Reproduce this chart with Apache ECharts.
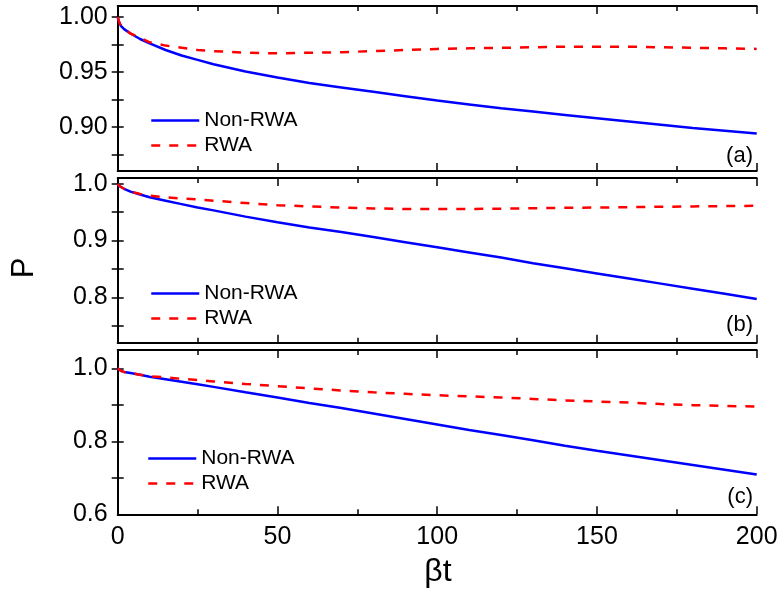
<!DOCTYPE html>
<html>
<head>
<meta charset="utf-8">
<script src="https://cdn.jsdelivr.net/npm/echarts@6/dist/echarts.min.js"></script>
<style>html,body{margin:0;padding:0;background:#fff}#c{width:783px;height:594px}</style>
</head>
<body>
<div id="c"></div>
<script>
const xs = [0, 0.5, 1, 2, 4, 7, 10, 15, 20, 25, 30, 40, 50, 60, 70, 80, 90, 100, 110, 120, 130, 140, 150, 160, 170, 180, 190, 200];
const aNonRWA = [1.000, 0.995, 0.992, 0.989, 0.985, 0.980, 0.976, 0.970, 0.965, 0.961, 0.957, 0.9505, 0.945, 0.940, 0.936, 0.932, 0.928, 0.924, 0.9205, 0.917, 0.914, 0.911, 0.908, 0.905, 0.902, 0.899, 0.8965, 0.894];
const aRWA = [1.000, 0.995, 0.992, 0.989, 0.985, 0.981, 0.977, 0.974, 0.972, 0.970, 0.969, 0.9675, 0.967, 0.9675, 0.968, 0.969, 0.970, 0.971, 0.9715, 0.972, 0.9725, 0.973, 0.973, 0.973, 0.9725, 0.972, 0.9715, 0.971];
const bNonRWA = [1.000, 0.996, 0.994, 0.991, 0.986, 0.981, 0.976, 0.970, 0.964, 0.958, 0.953, 0.942, 0.932, 0.923, 0.915, 0.906, 0.897, 0.888, 0.879, 0.870, 0.860, 0.851, 0.842, 0.833, 0.824, 0.815, 0.806, 0.797];
const bRWA = [1.000, 0.996, 0.994, 0.991, 0.986, 0.982, 0.979, 0.976, 0.974, 0.9725, 0.970, 0.966, 0.962, 0.960, 0.958, 0.9565, 0.9555, 0.9553, 0.9555, 0.956, 0.9567, 0.9575, 0.958, 0.9587, 0.9593, 0.960, 0.9605, 0.961];
const cNonRWA = [1.000, 0.995, 0.993, 0.990, 0.987, 0.982, 0.977, 0.970, 0.963, 0.956, 0.949, 0.934, 0.920, 0.905, 0.891, 0.876, 0.861, 0.846, 0.831, 0.817, 0.803, 0.788, 0.774, 0.761, 0.748, 0.735, 0.722, 0.709];
const cRWA = [1.000, 0.995, 0.993, 0.990, 0.987, 0.982, 0.978, 0.975, 0.971, 0.968, 0.964, 0.957, 0.951, 0.945, 0.939, 0.934, 0.930, 0.926, 0.923, 0.920, 0.916, 0.912, 0.909, 0.906, 0.902, 0.899, 0.897, 0.895];

const yRanges = [[0.86, 1.01], [0.72, 1.01], [0.6, 1.05]];
const yLabelTicks = [[0.90, 0.95, 1.00], [0.8, 0.9, 1.0], [0.6, 0.8, 1.0]];
const yAllTicks = [[0.875, 0.90, 0.925, 0.95, 0.975, 1.00], [0.75, 0.8, 0.85, 0.9, 0.95, 1.0], [0.7, 0.8, 0.9, 1.0]];
const yDecimals = [2, 1, 1];
const panelLabels = ['(a)', '(b)', '(c)'];
const seriesNames = ['Non-RWA', 'RWA'];
const panelData = [[aNonRWA, aRWA], [bNonRWA, bRWA], [cNonRWA, cRWA]];

const FONT = "'Liberation Sans', Arial, sans-serif";
const gridTops = [6, 178, 350];
const gridHeights = [165, 164.7, 164.3];
const legendTops = [110, 283, 448];
const legendLefts = [150, 150, 147];
const labelTops = [145, 314, 486];

const pair = (ys) => xs.map((x, i) => [x, ys[i]]);

const grids = [], xAxes = [], yAxes = [], series = [], legends = [], graphics = [];
const axLine = { show: true, lineStyle: { color: '#000', width: 2 } };
for (let p = 0; p < 3; p++) {
  grids.push({ left: 117.7, right: 26.3, top: gridTops[p], height: gridHeights[p] });
  const xBase = {
    type: 'value', gridIndex: p, min: 0, max: 200, interval: 50,
    axisLine: axLine, splitLine: { show: false },
    axisTick: { show: true, inside: true, length: 8, lineStyle: { color: '#000', width: 1.5 } },
    minorTick: { show: true, splitNumber: 2, length: 5, lineStyle: { color: '#000', width: 1.5 } }
  };
  xAxes.push(Object.assign({}, xBase, {
    position: 'bottom',
    axisLabel: { show: p === 2, fontSize: 25, color: '#000', fontFamily: FONT, margin: 10 }
  }));
  xAxes.push(Object.assign({}, xBase, { position: 'top', axisLabel: { show: false } }));
  const yBase = {
    type: 'value', gridIndex: p, min: yRanges[p][0], max: yRanges[p][1],
    axisLine: axLine, splitLine: { show: false },
    axisTick: { show: true, inside: true, length: 6, customValues: yAllTicks[p], lineStyle: { color: '#000', width: 1.5 } }
  };
  yAxes.push(Object.assign({}, yBase, {
    position: 'left',
    axisLabel: {
      show: true, customValues: yLabelTicks[p], fontSize: 25, color: '#000', fontFamily: FONT, margin: 10,
      formatter: (v) => Number(v).toFixed(yDecimals[p])
    }
  }));
  yAxes.push(Object.assign({}, yBase, { position: 'right', axisLabel: { show: false } }));
  panelData[p].forEach((ys, k) => {
    series.push({
      name: seriesNames[k], type: 'line', xAxisIndex: 2 * p, yAxisIndex: 2 * p,
      data: pair(ys), showSymbol: false, symbol: 'none', smooth: false,
      lineStyle: k === 0 ? { color: '#0000ff', width: 2.5 } : { color: '#ff0000', width: 2.5, type: [9, 9] },
      itemStyle: { color: k === 0 ? '#0000ff' : '#ff0000' }
    });
  });
  legends.push({
    data: seriesNames, orient: 'vertical', left: legendLefts[p], top: legendTops[p],
    itemWidth: 48, itemHeight: 14, itemGap: 4, padding: 0, selectedMode: false,
    itemStyle: { opacity: 0 },
    lineStyle: { width: 2.5 },
    textStyle: { fontSize: 21, color: '#000', fontFamily: FONT, lineHeight: 21 }
  });
  graphics.push({
    type: 'text', right: 30, top: labelTops[p],
    style: { text: panelLabels[p], font: '22px ' + FONT, fill: '#000' }
  });
}
graphics.push({
  type: 'text', x: 24, y: 268, rotation: Math.PI / 2,
  style: { text: 'P', font: '31px ' + FONT, fill: '#000', align: 'center', verticalAlign: 'middle' }
});
graphics.push({
  type: 'text', x: 438, y: 572,
  style: { text: 'βt', font: '32px ' + FONT, fill: '#000', align: 'center', verticalAlign: 'middle' }
});

const chart = echarts.init(document.getElementById('c'), null, { renderer: 'canvas' });
chart.setOption({
  animation: false,
  backgroundColor: '#fff',
  grid: grids, xAxis: xAxes, yAxis: yAxes, series: series, legend: legends, graphic: graphics
});
</script>
</body>
</html>
